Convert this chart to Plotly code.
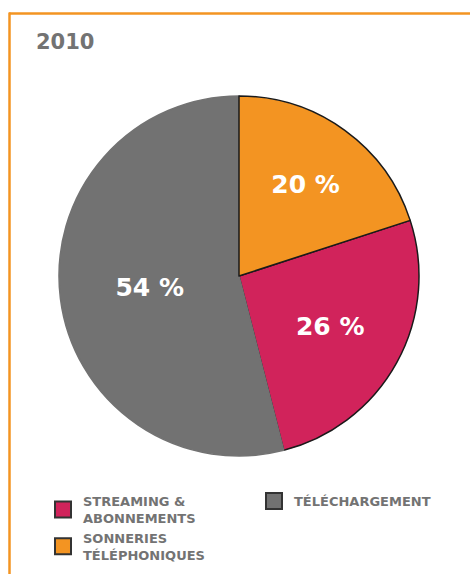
import plotly.graph_objects as go

# Data (clockwise order starting where the magenta slice begins)
labels = ["STREAMING &<br>ABONNEMENTS", "TÉLÉCHARGEMENT", "SONNERIES<br>TÉLÉPHONIQUES"]
values = [26, 54, 20]
texts = ["26 %", "54 %", "20 %"]
colors = ["#D1235B", "#727272", "#F39422"]
line_colors = ["#1a1a1a", "#727272", "#1a1a1a"]
title_text = "2010"

W, H = 470, 574
FONT = "DejaVu Sans"
GREY = "#737373"

fig = go.Figure()
fig.add_trace(go.Pie(
    labels=labels,
    values=values,
    text=texts,
    textinfo="text",
    textposition="inside",
    insidetextorientation="horizontal",
    textfont=dict(family=FONT, size=25, color="white", weight="bold"),
    marker=dict(colors=colors, line=dict(color=line_colors, width=1.5)),
    sort=False,
    direction="clockwise",
    rotation=72,
    hole=0,
    domain=dict(x=[58 / W, 420 / W], y=[1 - 456 / H, 1 - 96 / H]),
    showlegend=False,
))

# Legend entries (larger square swatches than the pie's default legend symbol)
for lab, col in zip(labels, colors):
    fig.add_trace(go.Scatter(
        x=[None], y=[None], mode="markers", name=lab,
        marker=dict(symbol="square", size=16, color=col, line=dict(color="#333333", width=2)),
        showlegend=True, hoverinfo="skip",
    ))

fig.update_layout(
    width=W, height=H,
    margin=dict(l=0, r=0, t=0, b=0, autoexpand=False),
    paper_bgcolor="white",
    plot_bgcolor="white",
    xaxis=dict(visible=False),
    yaxis=dict(visible=False),
    showlegend=True,
    legend=dict(
        orientation="h",
        x=43 / W, xanchor="left",
        y=1 - 486 / H, yanchor="top",
        entrywidth=166, entrywidthmode="pixels",
        font=dict(family=FONT, size=13, color=GREY, weight="bold"),
        traceorder="normal",
        itemclick=False,
        bgcolor="rgba(0,0,0,0)",
    ),
    annotations=[dict(
        text=title_text, x=34 / W, y=1 - 28 / H, xref="paper", yref="paper",
        xanchor="left", yanchor="top", showarrow=False,
        font=dict(family=FONT, size=21, color=GREY, weight="bold"),
    )],
    shapes=[
        dict(type="line", xref="paper", yref="paper", x0=9 / W, x1=1, y0=1 - 13.5 / H, y1=1 - 13.5 / H,
             line=dict(color="#F39422", width=2.5)),
        dict(type="line", xref="paper", yref="paper", x0=9.5 / W, x1=9.5 / W, y0=1 - 12.5 / H, y1=0,
             line=dict(color="#F39422", width=2.5)),
    ],
)

fig.write_html("out.html", post_script="document.body.style.margin='0px';",
               config={"displayModeBar": False})
